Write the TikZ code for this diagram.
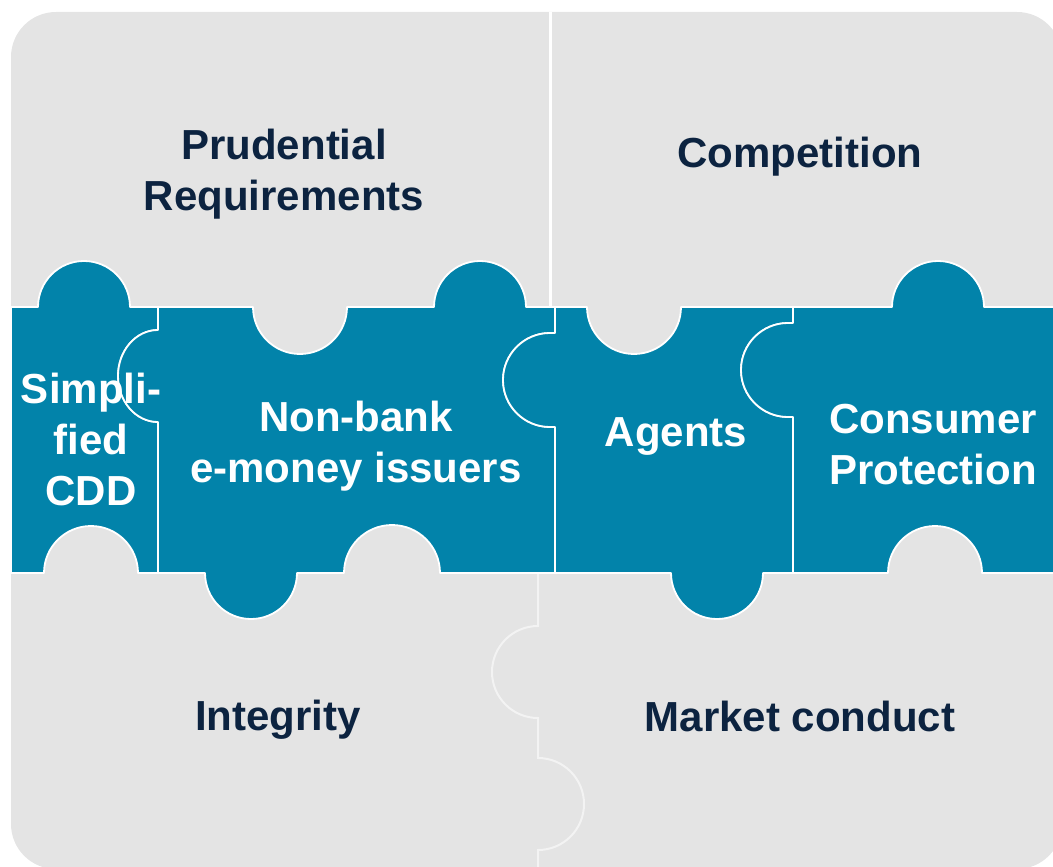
\documentclass[tikz,border=0pt]{standalone}
\usepackage{fontspec}
\setmainfont{Liberation Sans}
\definecolor{puzzleblue}{RGB}{2,131,170}
\definecolor{board}{RGB}{228,228,228}
\definecolor{navy}{RGB}{12,35,64}
\definecolor{seam}{RGB}{243,243,243}

\begin{document}
\begin{tikzpicture}[x=0.5pt, y=-0.5pt,
	bluepiece/.style={fill=puzzleblue, draw=white, line width=0.9pt, line join=round},
	label/.style={font=\bfseries\fontsize{21}{25.5}\selectfont, align=center, inner sep=0pt}]
	\useasboundingbox (0,0) rectangle (1053,866);
	\clip (0,0) rectangle (1053,866);
	% grey board with its seams
	\fill[board, rounded corners=22.5pt] (11,12) rectangle (1062,869);
	\draw[white, line width=1.5pt] (550,12) -- (550,307);
	\draw[seam, line width=1pt] (538,573) -- (538,626)
		arc[start angle=270, end angle=90, radius=46] -- (538,758)
		arc[start angle=270, end angle=450, radius=46] -- (538,870);
	% blue strip, four pieces
	\draw[bluepiece] (11,307) -- (38,307) arc[start angle=180, end angle=360, radius=46]
		-- (158,307) -- (158,330) arc[start angle=270, end angle=90, x radius=40, y radius=46]
		-- (158,573) -- (138,573) arc[start angle=360, end angle=180, radius=47]
		-- (11,573) -- cycle;
	\draw[bluepiece] (158,307) -- (253,307) arc[start angle=180, end angle=0, radius=47]
		-- (434,307) arc[start angle=180, end angle=360, radius=46]
		-- (555,307) -- (555,333) -- (550,333) arc[start angle=270, end angle=90, radius=47]
		-- (555,427) -- (555,573) -- (440,573) arc[start angle=360, end angle=180, radius=48]
		-- (297,573) arc[start angle=0, end angle=180, radius=46]
		-- (158,573) -- (158,422) arc[start angle=90, end angle=270, x radius=40, y radius=46]
		-- cycle;
	\draw[bluepiece] (555,307) -- (587,307) arc[start angle=180, end angle=0, radius=47]
		-- (793,307) -- (793,323) -- (788,323) arc[start angle=270, end angle=90, radius=47]
		-- (793,417) -- (793,573) -- (763,573) arc[start angle=0, end angle=180, radius=46]
		-- (555,573) -- (555,427) -- (550,427) arc[start angle=90, end angle=270, radius=47]
		-- (555,333) -- cycle;
	\draw[bluepiece] (793,307) -- (892,307) arc[start angle=180, end angle=360, radius=46]
		-- (1062,307) -- (1062,573) -- (982,573) arc[start angle=360, end angle=180, radius=47]
		-- (793,573) -- (793,417) -- (788,417) arc[start angle=90, end angle=270, radius=47]
		-- (793,323) -- cycle;
	\begin{scope}[every node/.style={label, text=navy}]
		\node (prud) at (284,174) {Prudential\\Requirements};
		\node (comp) at (800,157) {Competition};
		\node (integ) at (278,720) {Integrity};
		\node (market) at (800,716) {Market conduct};
	\end{scope}
	\begin{scope}[every node/.style={label, text=white}]
		\node (cdd) at (91,439) {Simpli-\\fied\\CDD};
		\node (emoney) at (356,446) {Non-bank\\e-money issuers};
		\node (agents) at (676,436) {Agents};
		\node (consumer) at (933,445) {Consumer\\Protection};
	\end{scope}
\end{tikzpicture}
\end{document}
